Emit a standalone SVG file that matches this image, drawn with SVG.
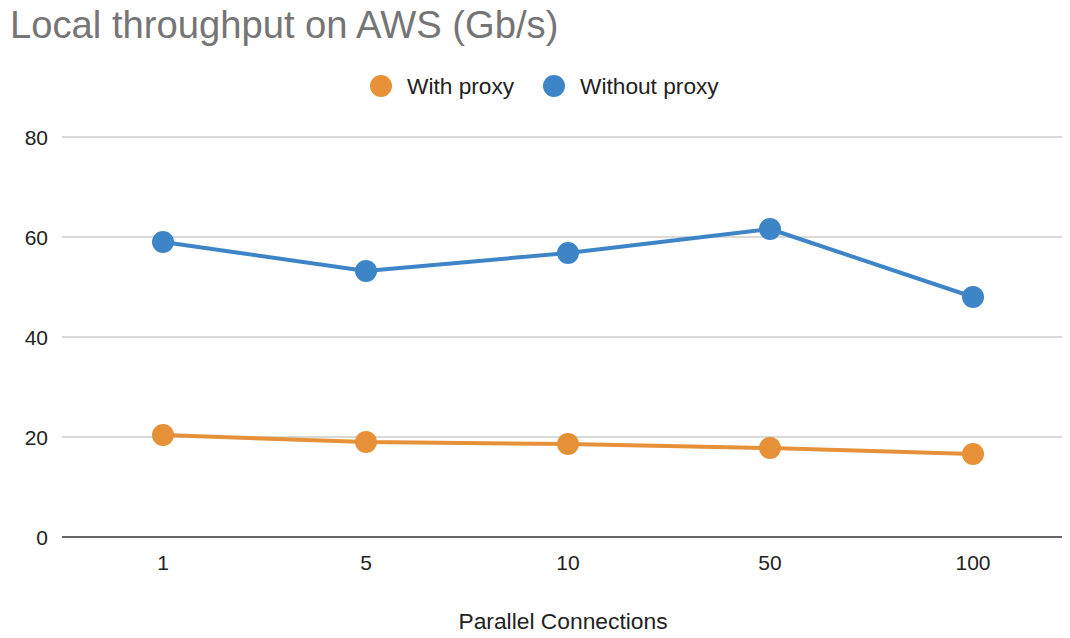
<svg xmlns="http://www.w3.org/2000/svg" width="1070" height="638" viewBox="0 0 1070 638">
<style>
text{font-family:"Liberation Sans",Arial,sans-serif;}
.grid{stroke:#cccccc;stroke-width:1.5;fill:none}
.axis{stroke:#333333;stroke-width:1.5;fill:none}
.lbl{font-size:22.7px;fill:#222222}
.ylbl{font-size:21px;fill:#222222;text-anchor:end}
.xlbl{font-size:21px;fill:#222222;text-anchor:middle}
.ttl{font-size:22.8px;fill:#222222;text-anchor:middle}
.orange{stroke:#E69138;stroke-width:4;fill:none;stroke-linejoin:round}
.blue{stroke:#3D85C6;stroke-width:4;fill:none;stroke-linejoin:round}
.od{fill:#E69138}
.bd{fill:#3D85C6}
</style>
<rect width="1070" height="638" fill="#ffffff"/>
<text x="10" y="38" font-size="38.2" fill="#757575">Local throughput on AWS (Gb/s)</text>
<g id="legend">
<circle class="od" cx="381" cy="86" r="11"/>
<text class="lbl" x="407" y="94">With proxy</text>
<circle class="bd" cx="554" cy="86" r="11"/>
<text class="lbl" x="580" y="94">Without proxy</text>
</g>
<g id="grid">
<line class="grid" x1="62" y1="137" x2="1062" y2="137"/>
<line class="grid" x1="62" y1="237" x2="1062" y2="237"/>
<line class="grid" x1="62" y1="337" x2="1062" y2="337"/>
<line class="grid" x1="62" y1="437" x2="1062" y2="437"/>
<line class="axis" x1="62" y1="537" x2="1062" y2="537"/>
</g>
<g id="yaxis">
<text class="ylbl" x="48" y="145">80</text>
<text class="ylbl" x="48" y="245">60</text>
<text class="ylbl" x="48" y="345">40</text>
<text class="ylbl" x="48" y="445">20</text>
<text class="ylbl" x="48" y="545">0</text>
</g>
<g id="xaxis">
<text class="xlbl" x="163" y="570">1</text>
<text class="xlbl" x="366" y="570">5</text>
<text class="xlbl" x="568" y="570">10</text>
<text class="xlbl" x="770" y="570">50</text>
<text class="xlbl" x="973" y="570">100</text>
<text class="ttl" x="563" y="629">Parallel Connections</text>
</g>
<g id="connectors">
<polyline class="blue" points="163,242 366,271 568,253 770,229 973,297"/>
<polyline class="orange" points="163,435 366,442 568,444 770,448 973,454"/>
</g>
<g id="series-without-proxy">
<circle class="bd" cx="163" cy="242" r="11"/>
<circle class="bd" cx="366" cy="271" r="11"/>
<circle class="bd" cx="568" cy="253" r="11"/>
<circle class="bd" cx="770" cy="229" r="11"/>
<circle class="bd" cx="973" cy="297" r="11"/>
</g>
<g id="series-with-proxy">
<circle class="od" cx="163" cy="435" r="11"/>
<circle class="od" cx="366" cy="442" r="11"/>
<circle class="od" cx="568" cy="444" r="11"/>
<circle class="od" cx="770" cy="448" r="11"/>
<circle class="od" cx="973" cy="454" r="11"/>
</g>
</svg>
